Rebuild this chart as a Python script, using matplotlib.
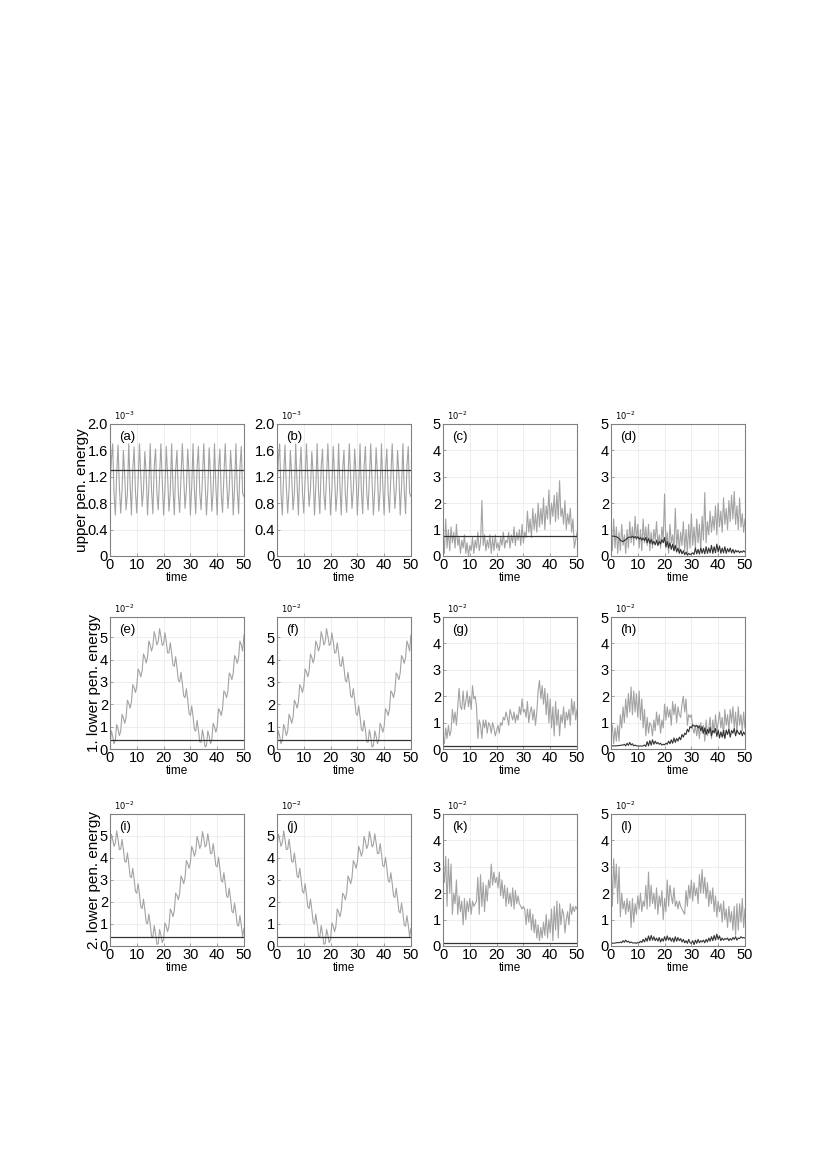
import numpy as np
import matplotlib
matplotlib.use('Agg')
import matplotlib.pyplot as plt

plt.rcParams['font.family'] = ['Liberation Sans', 'DejaVu Sans']

# ---- data (time step 0.5) ----
a_gray = [1.0, 1.45, 1.7, 0.95, 0.62, 1.25, 1.68, 1.05, 0.65, 1.0, 1.6, 1.2, 0.7, 0.95, 1.7, 1.1,
          0.62, 1.3, 1.65, 0.98, 0.65, 1.15, 1.7, 1.2, 0.75, 1.0, 1.58, 1.25, 0.62, 1.05, 1.7, 1.0,
          0.64, 1.35, 1.62, 0.95, 0.7, 1.2, 1.7, 1.15, 0.62, 1.0, 1.66, 1.22, 0.68, 0.97, 1.7, 1.05,
          0.62, 1.3, 1.6, 0.95, 0.66, 1.2, 1.7, 1.2, 0.72, 1.0, 1.62, 1.25, 0.62, 1.05, 1.7, 1.0,
          0.64, 1.35, 1.66, 0.96, 0.7, 1.18, 1.7, 1.12, 0.62, 1.0, 1.64, 1.24, 0.68, 0.98, 1.7, 1.06,
          0.62, 1.3, 1.62, 0.95, 0.66, 1.2, 1.7, 1.18, 0.72, 1.0, 1.6, 1.25, 0.62, 1.05, 1.7, 1.0,
          0.64, 1.35, 1.66, 0.95, 0.9]
a_level = 1.3

c_gray = [0.9, 0.1, 1.4, 0.3, 1.0, 0.2, 1.1, 0.5, 0.9, 0.3, 1.2, 0.4, 0.7, 0.1, 0.6, 0.3, 0.8, 0.1,
          0.5, 0.0, 0.4, 0.2, 0.7, 0.1, 0.6, 0.3, 0.9, 0.2, 0.5, 2.1, 0.4, 0.8, 0.2, 0.6, 0.3, 0.8,
          0.1, 0.7, 0.2, 0.8, 0.3, 0.5, 0.2, 0.7, 0.4, 0.9, 0.3, 0.6, 0.5, 0.9, 0.3, 0.8, 0.5, 1.1,
          0.4, 0.9, 0.6, 1.0, 0.4, 1.2, 0.5, 0.9, 0.7, 1.7, 0.9, 1.4, 0.7, 1.8, 1.0, 1.6, 0.9, 2.0,
          1.1, 1.8, 1.2, 2.2, 1.0, 1.9, 1.4, 2.5, 1.2, 2.0, 1.5, 2.3, 1.3, 2.4, 1.4, 2.85, 1.5, 1.8,
          1.2, 2.1, 1.0, 1.6, 1.2, 1.8, 0.9, 1.4, 0.3, 0.6, 0.9]
c_level = 0.75

d_gray = [1.0, 0.2, 1.4, 0.3, 1.1, 0.1, 0.9, 0.2, 1.2, 0.4, 0.8, 0.1, 1.0, 0.3, 1.3, 0.5, 1.1, 0.4,
          1.5, 0.6, 1.2, 0.3, 1.0, 0.2, 1.4, 0.5, 1.1, 0.4, 1.2, 0.2, 0.9, 0.3, 1.0, 0.6, 1.3, 0.4,
          0.8, 0.3, 1.1, 0.6, 2.35, 0.3, 0.9, 0.1, 1.2, 0.5, 0.8, 0.2, 1.8, 0.3, 1.0, 0.2, 0.9, 0.4,
          1.3, 0.2, 1.0, 0.1, 1.2, 0.3, 1.6, 0.4, 1.1, 0.3, 1.4, 0.5, 1.2, 0.2, 1.5, 0.6, 2.4, 0.5,
          1.3, 0.8, 1.7, 0.9, 1.5, 1.0, 1.9, 0.8, 2.0, 1.1, 1.7, 0.9, 2.2, 1.2, 1.8, 1.0, 2.1, 1.3,
          2.3, 1.4, 2.45, 1.2, 1.9, 1.0, 2.2, 1.1, 1.6, 0.9, 1.4]
d_black = [0.75, 0.75, 0.75, 0.74, 0.73, 0.70, 0.66, 0.60, 0.56, 0.55, 0.58, 0.62, 0.67, 0.70, 0.72,
           0.70, 0.75, 0.68, 0.74, 0.66, 0.73, 0.64, 0.70, 0.60, 0.68, 0.58, 0.70, 0.50, 0.66, 0.48,
           0.62, 0.45, 0.56, 0.42, 0.60, 0.40, 0.55, 0.45, 0.62, 0.50, 0.70, 0.35, 0.55, 0.30, 0.50,
           0.25, 0.45, 0.20, 0.40, 0.15, 0.30, 0.10, 0.25, 0.08, 0.20, 0.05, 0.15, 0.03, 0.10, 0.05,
           0.08, 0.12, 0.06, 0.30, 0.08, 0.25, 0.07, 0.30, 0.10, 0.28, 0.08, 0.35, 0.10, 0.30, 0.12,
           0.40, 0.10, 0.35, 0.12, 0.45, 0.15, 0.38, 0.10, 0.30, 0.12, 0.35, 0.10, 0.28, 0.15, 0.30,
           0.12, 0.25, 0.10, 0.22, 0.15, 0.20, 0.12, 0.18, 0.14, 0.20, 0.15]

e_gray = [0.15, 0.81, 0.58, 0.24, 0.4, 1.1, 0.9, 0.6, 0.8, 1.55, 1.4, 1.15, 1.4, 2.18, 2.05, 1.83,
          2.1, 2.88, 2.75, 2.53, 2.8, 3.58, 3.45, 3.23, 3.5, 4.25, 4.1, 3.85, 4.1, 4.83, 4.65, 4.38,
          4.6, 5.25, 5.0, 4.65, 4.8, 5.38, 5.05, 4.63, 4.7, 5.2, 4.8, 4.3, 4.3, 4.75, 4.3, 3.75,
          3.7, 4.13, 3.65, 3.08, 3.0, 3.43, 2.95, 2.38, 2.3, 2.7, 2.2, 1.6, 1.5, 1.93, 1.45, 0.88,
          0.8, 1.28, 0.85, 0.33, 0.3, 0.86, 0.53, 0.09, 0.15, 0.81, 0.58, 0.24, 0.4, 1.15, 1.0, 0.75,
          1.0, 1.8, 1.7, 1.5, 1.8, 2.6, 2.5, 2.3, 2.6, 3.4, 3.3, 3.1, 3.4, 4.18, 4.05, 3.83,
          4.1, 4.83, 4.65, 4.38, 5.1]
e_level = 0.4

g_gray = [0.3, 0.2, 0.8, 0.4, 0.9, 0.5, 0.7, 1.5, 1.0, 1.4, 0.9, 1.6, 2.3, 1.6, 1.5, 2.2, 1.5, 1.8,
          2.2, 1.6, 2.0, 1.5, 2.4, 1.9, 2.0, 1.6, 0.4, 1.1, 0.9, 0.4, 1.1, 0.8, 1.1, 0.6, 1.0, 0.9,
          0.6, 1.0, 0.8, 0.5, 0.7, 0.9, 0.6, 1.0, 0.9, 1.2, 1.1, 1.4, 1.2, 0.9, 1.5, 1.3, 1.1, 1.4,
          1.0, 1.3, 1.1, 1.6, 1.3, 1.9, 1.4, 1.5, 1.2, 1.8, 1.0, 1.4, 1.6, 1.1, 1.5, 0.9, 1.4, 2.2,
          2.6, 1.9, 2.4, 1.7, 2.3, 1.3, 2.1, 1.0, 1.9, 0.8, 1.6, 0.5, 1.8, 0.9, 1.5, 0.5, 1.3, 1.0,
          1.6, 0.8, 1.4, 1.1, 1.5, 0.9, 1.9, 1.3, 1.8, 1.1, 1.5]
g_level = 0.12

h_gray = [0.5, 0.9, 0.2, 0.8, 0.3, 0.9, 0.3, 1.3, 0.8, 1.6, 1.0, 1.9, 1.2, 2.1, 1.4, 2.35, 1.3, 2.2,
          1.4, 2.1, 1.2, 2.2, 1.1, 1.9, 0.8, 1.5, 0.5, 1.2, 0.6, 1.0, 0.9, 0.5, 1.1, 0.7, 1.4, 0.9,
          1.3, 0.6, 1.1, 0.8, 1.7, 1.1, 1.6, 1.2, 1.5, 0.9, 1.8, 1.3, 1.7, 1.0, 1.6, 1.3, 1.2, 1.7,
          2.0, 1.4, 1.9, 0.9, 1.3, 1.2, 1.3, 0.8, 0.6, 0.9, 0.5, 0.9, 0.4, 1.0, 0.6, 0.9, 0.3, 1.1,
          0.5, 0.8, 1.2, 0.4, 1.1, 0.6, 1.3, 0.7, 1.0, 1.4, 0.8, 1.2, 0.5, 1.5, 0.9, 1.3, 0.7, 1.5,
          1.0, 1.6, 0.8, 1.4, 0.6, 1.6, 0.9, 1.3, 0.7, 1.4, 0.8]
h_black = [0.12, 0.12, 0.12, 0.12, 0.12, 0.13, 0.13, 0.14, 0.15, 0.15, 0.18, 0.12, 0.22, 0.14, 0.25,
           0.15, 0.20, 0.12, 0.15, 0.12, 0.12, 0.11, 0.12, 0.11, 0.12, 0.15, 0.10, 0.28, 0.12, 0.32,
           0.15, 0.35, 0.18, 0.30, 0.20, 0.25, 0.18, 0.22, 0.15, 0.18, 0.16, 0.22, 0.18, 0.30, 0.20,
           0.35, 0.22, 0.42, 0.25, 0.40, 0.30, 0.45, 0.35, 0.55, 0.45, 0.60, 0.55, 0.75, 0.65, 0.85,
           0.80, 0.92, 0.88, 0.85, 0.90, 0.80, 0.88, 0.70, 0.85, 0.60, 0.80, 0.55, 0.75, 0.60, 0.82,
           0.50, 0.70, 0.62, 0.78, 0.48, 0.72, 0.42, 0.65, 0.45, 0.70, 0.40, 0.72, 0.55, 0.75, 0.45,
           0.70, 0.60, 0.78, 0.50, 0.72, 0.62, 0.55, 0.70, 0.50, 0.65, 0.55]

i_gray = [4.4, 5.08, 4.85, 4.53, 4.7, 5.23, 4.85, 4.38, 4.4, 4.85, 4.4, 3.85, 3.8, 4.23, 3.75, 3.18,
          3.1, 3.53, 3.05, 2.48, 2.4, 2.83, 2.35, 1.78, 1.7, 2.13, 1.65, 1.08, 1.0, 1.45, 1.0, 0.45,
          0.4, 0.93, 0.55, 0.08, 0.1, 0.75, 0.5, 0.15, 0.3, 1.05, 0.9, 0.65, 0.9, 1.68, 1.55, 1.33,
          1.6, 2.4, 2.3, 2.1, 2.4, 3.18, 3.05, 2.83, 3.1, 3.88, 3.75, 3.53, 3.8, 4.53, 4.35, 4.08,
          4.3, 4.98, 4.75, 4.43, 4.6, 5.2, 4.9, 4.5, 4.6, 5.1, 4.7, 4.2, 4.2, 4.65, 4.2, 3.65,
          3.6, 4.03, 3.55, 2.98, 2.9, 3.33, 2.85, 2.28, 2.2, 2.63, 2.15, 1.58, 1.5, 1.95, 1.5, 0.95,
          0.9, 1.38, 0.95, 0.43, 0.8]
i_level = 0.4

k_gray = [3.0, 2.4, 3.4, 1.5, 3.3, 2.0, 3.1, 1.2, 2.0, 1.6, 2.5, 1.2, 1.9, 1.3, 1.7, 0.8, 1.8, 1.0,
          1.7, 1.3, 1.8, 1.2, 1.7, 1.5, 1.6, 1.7, 2.6, 1.2, 2.7, 1.5, 2.4, 1.3, 2.3, 1.7, 2.5, 2.2,
          3.1, 2.3, 2.8, 2.4, 2.6, 2.2, 2.8, 1.9, 2.5, 1.8, 2.3, 1.5, 2.2, 1.6, 2.0, 1.5, 2.2, 1.4,
          2.1, 1.6, 1.9, 1.6, 1.5, 1.4, 1.5, 1.4, 0.8, 1.4, 0.9, 1.4, 0.6, 1.2, 0.5, 1.0, 0.3, 0.8,
          0.2, 0.7, 0.3, 0.9, 0.4, 1.2, 0.3, 1.0, 0.5, 1.4, 0.2, 1.5, 0.6, 1.7, 0.3, 1.6, 0.8, 1.4,
          1.2, 0.5, 1.0, 1.3, 0.8, 1.6, 1.2, 1.5, 1.3, 1.5, 1.4]
k_level = 0.12

l_gray = [3.4, 1.5, 3.3, 2.2, 3.1, 1.6, 3.0, 1.1, 2.0, 1.4, 1.7, 1.2, 1.8, 1.3, 1.7, 0.7, 1.8, 0.9,
          1.6, 1.2, 1.9, 1.4, 2.0, 1.3, 1.7, 1.5, 2.3, 1.4, 2.8, 1.5, 2.3, 1.6, 2.0, 1.4, 2.2, 1.2,
          1.9, 1.5, 2.1, 1.0, 1.8, 1.3, 2.5, 1.5, 2.3, 1.9, 1.6, 2.2, 1.5, 1.7, 1.4, 1.7, 1.5, 1.4,
          1.3, 1.2, 2.1, 1.5, 2.3, 1.8, 2.5, 1.7, 2.4, 1.9, 2.2, 1.6, 2.7, 2.0, 2.9, 2.0, 2.6, 1.8,
          2.4, 1.5, 2.1, 1.6, 2.2, 1.3, 1.9, 1.1, 1.7, 1.3, 1.6, 0.9, 1.7, 1.0, 1.4, 0.7, 1.5, 0.9,
          1.3, 0.6, 1.5, 0.4, 1.6, 0.6, 1.6, 0.9, 1.8, 0.7, 1.4]
l_black = [0.10, 0.10, 0.11, 0.11, 0.12, 0.13, 0.12, 0.15, 0.12, 0.20, 0.14, 0.22, 0.15, 0.18, 0.12,
           0.15, 0.12, 0.11, 0.12, 0.10, 0.13, 0.12, 0.18, 0.13, 0.25, 0.15, 0.30, 0.18, 0.38, 0.20,
           0.40, 0.22, 0.35, 0.20, 0.30, 0.18, 0.32, 0.15, 0.28, 0.18, 0.35, 0.20, 0.38, 0.22, 0.32,
           0.18, 0.30, 0.15, 0.35, 0.18, 0.32, 0.20, 0.28, 0.15, 0.25, 0.12, 0.20, 0.10, 0.25, 0.12,
           0.10, 0.20, 0.05, 0.22, 0.10, 0.25, 0.12, 0.20, 0.15, 0.22, 0.12, 0.25, 0.15, 0.30, 0.18,
           0.35, 0.20, 0.40, 0.22, 0.45, 0.25, 0.38, 0.20, 0.30, 0.22, 0.28, 0.25, 0.30, 0.20, 0.28,
           0.22, 0.32, 0.25, 0.35, 0.22, 0.30, 0.28, 0.35, 0.30, 0.32, 0.30]

row_labels = ['upper pen. energy', '1. lower pen. energy', '2. lower pen. energy']
panel_names = ['(a)', '(b)', '(c)', '(d)', '(e)', '(f)', '(g)', '(h)', '(i)', '(j)', '(k)', '(l)']

# per panel: gray series, black series (list) or constant level (float), y top
panels = [
    (a_gray, a_level, 2.0), (a_gray, a_level, 2.0), (c_gray, c_level, 5), (d_gray, d_black, 5),
    (e_gray, e_level, 5.9), (e_gray, e_level, 5.9), (g_gray, g_level, 5), (h_gray, h_black, 5),
    (i_gray, i_level, 6.0), (i_gray, i_level, 6.0), (k_gray, k_level, 5), (l_gray, l_black, 5),
]

GRAY = '#a3a3a3'
DARK = '#333333'
EDGE = '#808080'

fig = plt.figure(figsize=(8.27, 11.68), dpi=100)

lefts = [0.133, 0.3349, 0.5357, 0.7388]
bottoms = [0.5240, 0.3587, 0.1901]
w, h = 0.162, 0.113

for n, (gray, black, ytop) in enumerate(panels):
    r, c = divmod(n, 4)
    ax = fig.add_axes([lefts[c], bottoms[r], w, h])
    t = np.linspace(0, 50, len(gray))
    ax.plot(t, gray, color=GRAY, lw=0.8)
    if isinstance(black, list):
        tb = np.linspace(0, 50, len(black))
        ax.plot(tb, black, color=DARK, lw=0.8)
    else:
        ax.axhline(black, color=DARK, lw=0.9)

    ax.set_xlim(0, 50)
    ax.set_xticks([0, 10, 20, 30, 40, 50])
    ax.set_ylim(0, ytop)
    if r == 0 and c < 2:
        ax.set_yticks([0, 0.4, 0.8, 1.2, 1.6, 2.0])
        ax.set_yticklabels(['0', '0.4', '0.8', '1.2', '1.6', '2.0'])
        mult = r'$10^{-3}$'
    else:
        ax.set_yticks([0, 1, 2, 3, 4, 5])
        mult = r'$10^{-2}$'

    ax.grid(True, color='#ebebeb', lw=0.6)
    ax.set_axisbelow(True)
    for s in ax.spines.values():
        s.set_color(EDGE)
        s.set_linewidth(0.8)
    ax.tick_params(direction='in', length=2, width=0.5, color=EDGE,
                   labelsize=10.5, pad=1.5)
    ax.set_xlabel('time', fontsize=8.5, labelpad=0)
    ax.text(0.07, 0.9, panel_names[n], transform=ax.transAxes, fontsize=9.5,
            va='center', ha='left')
    ax.text(0.03, 1.015, mult, transform=ax.transAxes, fontsize=6,
            va='bottom', ha='left')
    if c == 0:
        ax.set_ylabel(row_labels[r], fontsize=11, labelpad=-1)

fig.savefig('out.png', dpi=100)
